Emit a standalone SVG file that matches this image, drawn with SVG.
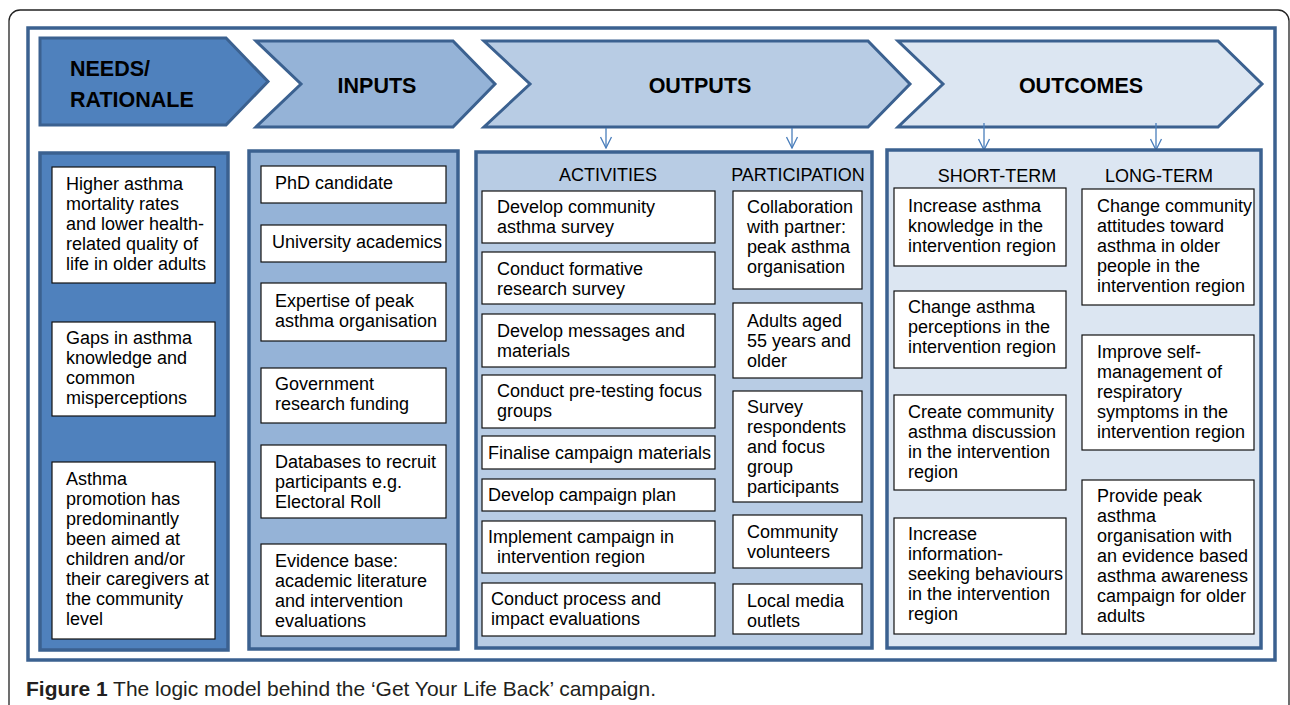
<svg xmlns="http://www.w3.org/2000/svg" width="1290" height="705" viewBox="0 0 1290 705">
<defs>
<style>
.frame{fill:none;stroke:#222;stroke-width:1.3}
.inner{fill:#fff;stroke:#3b6190;stroke-width:3.5}
.chev{stroke:#3b6190;stroke-width:3;stroke-linejoin:miter}
.panel{stroke:#3b6190;stroke-width:3.5}
.box{fill:#fff;stroke:#111;stroke-width:1.2}
.c1{fill:#4f81bd}.c2{fill:#95b3d7}.c3{fill:#b8cce4}.c4{fill:#dce6f2}
.title{font-family:"Liberation Sans",Arial,sans-serif;font-weight:bold;font-size:21.5px;fill:#000}
.hdr{font-family:"Liberation Sans",Arial,sans-serif;font-size:18px;fill:#000;text-anchor:middle}
.t{font-family:"Liberation Sans",Arial,sans-serif;font-size:18px;fill:#000}
.cap{font-family:"Liberation Sans",Arial,sans-serif;font-size:21px;fill:#231f20}
.arr{stroke:#4a7ebb;stroke-width:1.3;fill:none}
</style>
<marker id="ah" viewBox="0 0 13 13" refX="12" refY="6.5" markerWidth="13" markerHeight="13" markerUnits="userSpaceOnUse" orient="auto">
<path d="M1,1 L12,6.5 L1,12" fill="none" stroke="#4a7ebb" stroke-width="1.3"/>
</marker>
</defs>
<rect x="0" y="0" width="1290" height="705" fill="#fff"/>
<rect class="frame" x="9" y="10" width="1280" height="730" rx="11"/>
<rect class="inner" x="28" y="28" width="1247" height="632"/>

<g id="needs-header"><polygon class="chev c1" points="40,38 226,38 268,81.5 226,125 40,125"/>
<text class="title" x="70" y="76">NEEDS/</text><text class="title" x="70" y="107">RATIONALE</text></g>
<g id="inputs-header"><polygon class="chev c2" points="256,41 453,41 495,84 453,127 256,127 301,84"/>
<text class="title" x="377" y="93" text-anchor="middle">INPUTS</text></g>
<g id="outputs-header"><polygon class="chev c3" points="484,41 868,41 910,84 868,127 484,127 530,84"/>
<text class="title" x="700" y="93" text-anchor="middle">OUTPUTS</text></g>
<g id="outcomes-header"><polygon class="chev c4" points="898,41 1218,41 1262,84 1218,127 898,127 943,84"/>
<text class="title" x="1081" y="93" text-anchor="middle">OUTCOMES</text></g>

<g id="connectors">
<line class="arr" x1="606" y1="128" x2="606" y2="148" marker-end="url(#ah)"/>
<line class="arr" x1="792" y1="128" x2="792" y2="148" marker-end="url(#ah)"/>
<line class="arr" x1="984" y1="123" x2="984" y2="150" marker-end="url(#ah)"/>
<line class="arr" x1="1156" y1="123" x2="1156" y2="150" marker-end="url(#ah)"/>
</g>

<g id="needs-panel"><rect class="panel c1" x="40" y="153" width="188" height="497"/></g>
<g id="inputs-panel"><rect class="panel c2" x="249" y="151" width="209" height="498"/></g>
<g id="outputs-panel"><rect class="panel c3" x="476" y="152" width="396" height="496"/>
<text class="hdr" x="608" y="181">ACTIVITIES</text><text class="hdr" x="798" y="181">PARTICIPATION</text></g>
<g id="outcomes-panel"><rect class="panel c4" x="887" y="150" width="374" height="498"/>
<text class="hdr" x="997" y="182">SHORT-TERM</text><text class="hdr" x="1159" y="182">LONG-TERM</text></g>

<g id="need1"><rect class="box" x="52" y="167" width="163" height="116"/>
<text class="t" x="66" y="190">Higher asthma<tspan x="66" dy="20">mortality rates</tspan><tspan x="66" dy="20">and lower health-</tspan><tspan x="66" dy="20">related quality of</tspan><tspan x="66" dy="20">life in older adults</tspan></text></g>
<g id="need2"><rect class="box" x="52" y="322" width="163" height="94"/>
<text class="t" x="66" y="344">Gaps in asthma<tspan x="66" dy="20">knowledge and</tspan><tspan x="66" dy="20">common</tspan><tspan x="66" dy="20">misperceptions</tspan></text></g>
<g id="need3"><rect class="box" x="52" y="462" width="163" height="177"/>
<text class="t" x="66" y="485">Asthma<tspan x="66" dy="20">promotion has</tspan><tspan x="66" dy="20">predominantly</tspan><tspan x="66" dy="20">been aimed at</tspan><tspan x="66" dy="20">children and/or</tspan><tspan x="66" dy="20">their caregivers at</tspan><tspan x="66" dy="20">the community</tspan><tspan x="66" dy="20">level</tspan></text></g>

<g id="input1"><rect class="box" x="261" y="166" width="185" height="37"/>
<text class="t" x="275" y="189">PhD candidate</text></g>
<g id="input2"><rect class="box" x="261" y="225" width="185" height="37"/>
<text class="t" x="272" y="248">University academics</text></g>
<g id="input3"><rect class="box" x="261" y="283" width="185" height="58"/>
<text class="t" x="275" y="307">Expertise of peak<tspan x="275" dy="20">asthma organisation</tspan></text></g>
<g id="input4"><rect class="box" x="261" y="368" width="185" height="55"/>
<text class="t" x="275" y="390">Government<tspan x="275" dy="20">research funding</tspan></text></g>
<g id="input5"><rect class="box" x="261" y="445" width="185" height="73"/>
<text class="t" x="275" y="468">Databases to recruit<tspan x="275" dy="20">participants e.g.</tspan><tspan x="275" dy="20">Electoral Roll</tspan></text></g>
<g id="input6"><rect class="box" x="261" y="544" width="185" height="92"/>
<text class="t" x="275" y="567">Evidence base:<tspan x="275" dy="20">academic literature</tspan><tspan x="275" dy="20">and intervention</tspan><tspan x="275" dy="20">evaluations</tspan></text></g>

<g id="act1"><rect class="box" x="482" y="191" width="233" height="52"/>
<text class="t" x="497" y="213">Develop community<tspan x="497" dy="20">asthma survey</tspan></text></g>
<g id="act2"><rect class="box" x="482" y="252" width="233" height="52"/>
<text class="t" x="497" y="275">Conduct formative<tspan x="497" dy="20">research survey</tspan></text></g>
<g id="act3"><rect class="box" x="482" y="314" width="233" height="53"/>
<text class="t" x="497" y="337">Develop messages and<tspan x="497" dy="20">materials</tspan></text></g>
<g id="act4"><rect class="box" x="482" y="375" width="233" height="53"/>
<text class="t" x="497" y="397">Conduct pre-testing focus<tspan x="497" dy="20">groups</tspan></text></g>
<g id="act5"><rect class="box" x="482" y="436" width="233" height="33"/>
<text class="t" x="488" y="459">Finalise campaign materials</text></g>
<g id="act6"><rect class="box" x="482" y="479" width="233" height="32"/>
<text class="t" x="488" y="501">Develop campaign plan</text></g>
<g id="act7"><rect class="box" x="482" y="521" width="233" height="52"/>
<text class="t" x="488" y="543">Implement campaign in<tspan x="497" dy="20">intervention region</tspan></text></g>
<g id="act8"><rect class="box" x="482" y="583" width="233" height="53"/>
<text class="t" x="491" y="605">Conduct process and<tspan x="491" dy="20">impact evaluations</tspan></text></g>

<g id="part1"><rect class="box" x="733" y="191" width="129" height="98"/>
<text class="t" x="747" y="213">Collaboration<tspan x="747" dy="20">with partner:</tspan><tspan x="747" dy="20">peak asthma</tspan><tspan x="747" dy="20">organisation</tspan></text></g>
<g id="part2"><rect class="box" x="733" y="303" width="129" height="75"/>
<text class="t" x="747" y="327">Adults aged<tspan x="747" dy="20">55 years and</tspan><tspan x="747" dy="20">older</tspan></text></g>
<g id="part3"><rect class="box" x="733" y="391" width="129" height="111"/>
<text class="t" x="747" y="413">Survey<tspan x="747" dy="20">respondents</tspan><tspan x="747" dy="20">and focus</tspan><tspan x="747" dy="20">group</tspan><tspan x="747" dy="20">participants</tspan></text></g>
<g id="part4"><rect class="box" x="733" y="515" width="129" height="53"/>
<text class="t" x="747" y="538">Community<tspan x="747" dy="20">volunteers</tspan></text></g>
<g id="part5"><rect class="box" x="733" y="584" width="129" height="50"/>
<text class="t" x="747" y="607">Local media<tspan x="747" dy="20">outlets</tspan></text></g>

<g id="short1"><rect class="box" x="894" y="188" width="172" height="78"/>
<text class="t" x="908" y="212">Increase asthma<tspan x="908" dy="20">knowledge in the</tspan><tspan x="908" dy="20">intervention region</tspan></text></g>
<g id="short2"><rect class="box" x="894" y="291" width="172" height="77"/>
<text class="t" x="908" y="313">Change asthma<tspan x="908" dy="20">perceptions in the</tspan><tspan x="908" dy="20">intervention region</tspan></text></g>
<g id="short3"><rect class="box" x="894" y="395" width="172" height="95"/>
<text class="t" x="908" y="418">Create community<tspan x="908" dy="20">asthma discussion</tspan><tspan x="908" dy="20">in the intervention</tspan><tspan x="908" dy="20">region</tspan></text></g>
<g id="short4"><rect class="box" x="894" y="518" width="172" height="116"/>
<text class="t" x="908" y="540">Increase<tspan x="908" dy="20">information-</tspan><tspan x="908" dy="20">seeking behaviours</tspan><tspan x="908" dy="20">in the intervention</tspan><tspan x="908" dy="20">region</tspan></text></g>

<g id="long1"><rect class="box" x="1082" y="189" width="172" height="116"/>
<text class="t" x="1097" y="212">Change community<tspan x="1097" dy="20">attitudes toward</tspan><tspan x="1097" dy="20">asthma in older</tspan><tspan x="1097" dy="20">people in the</tspan><tspan x="1097" dy="20">intervention region</tspan></text></g>
<g id="long2"><rect class="box" x="1082" y="335" width="172" height="115"/>
<text class="t" x="1097" y="358">Improve self-<tspan x="1097" dy="20">management of</tspan><tspan x="1097" dy="20">respiratory</tspan><tspan x="1097" dy="20">symptoms in the</tspan><tspan x="1097" dy="20">intervention region</tspan></text></g>
<g id="long3"><rect class="box" x="1082" y="480" width="172" height="154"/>
<text class="t" x="1097" y="502">Provide peak<tspan x="1097" dy="20">asthma</tspan><tspan x="1097" dy="20">organisation with</tspan><tspan x="1097" dy="20">an evidence based</tspan><tspan x="1097" dy="20">asthma awareness</tspan><tspan x="1097" dy="20">campaign for older</tspan><tspan x="1097" dy="20">adults</tspan></text></g>

<text class="cap" x="26" y="696" textLength="630" lengthAdjust="spacingAndGlyphs"><tspan font-weight="bold">Figure 1</tspan> The logic model behind the ‘Get Your Life Back’ campaign.</text>
</svg>
